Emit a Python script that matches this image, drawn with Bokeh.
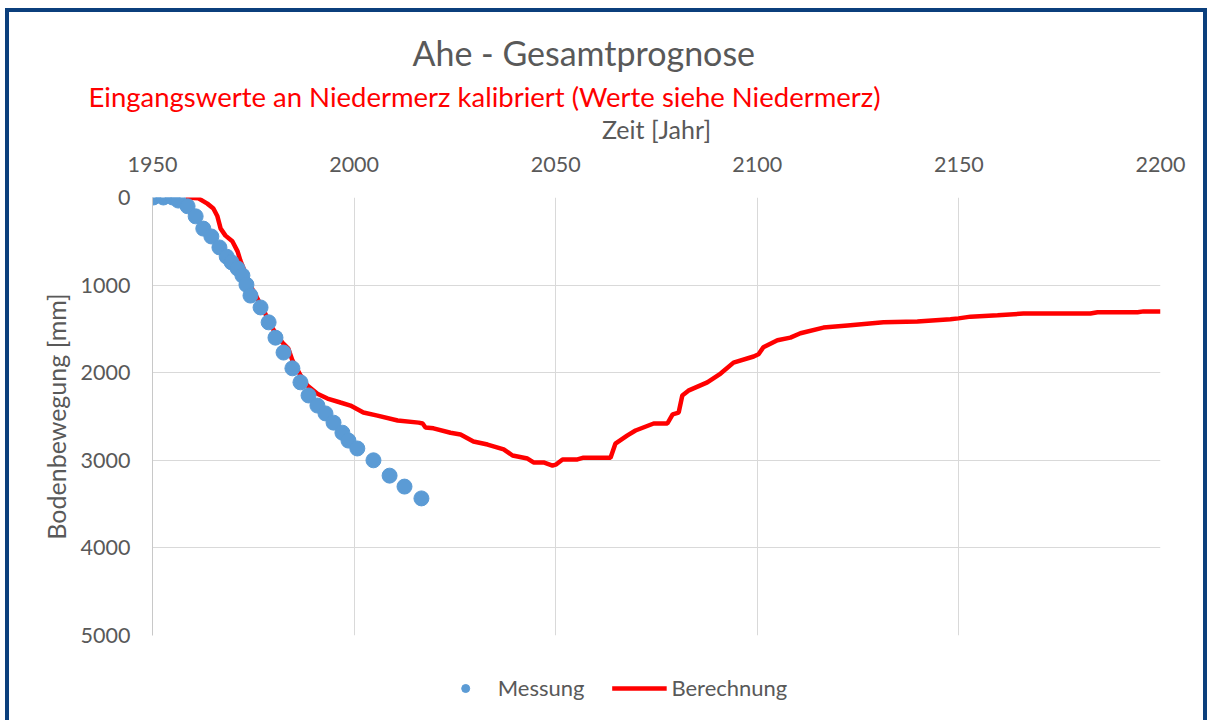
from bokeh.plotting import figure
from bokeh.models import Range1d, FixedTicker, Title, Legend, LegendItem
from bokeh.embed import file_html
from bokeh.resources import INLINE

# Messung (measured)
mess_year = [1950.2, 1952.7, 1955.0, 1956.4, 1958.7, 1960.7, 1962.6, 1964.6, 1966.6, 1968.4,
             1969.6, 1971.1, 1972.3, 1973.3, 1974.3, 1976.8, 1978.8, 1980.5, 1982.5, 1984.7,
             1986.7, 1988.7, 1990.9, 1992.9, 1994.9, 1997.1, 1998.6, 2000.8, 2004.8, 2008.8,
             2012.5, 2016.7]
mess_mm = [0, 0, 0, 35, 100, 215, 355, 445, 570, 675,
           740, 810, 890, 995, 1120, 1255, 1425, 1600, 1770, 1950,
           2110, 2260, 2375, 2465, 2570, 2685, 2775, 2865, 3000, 3175,
           3300, 3435]

# Berechnung (calculated)
ber_year = [1958.2, 1961.4, 1963.6, 1965.1, 1966.1, 1966.9, 1968.1, 1969.8, 1971.1, 1971.8,
            1974.3, 1977.3, 1979.8, 1982.2, 1983.7, 1984.7, 1986.7, 1988.4, 1990.9, 1993.4,
            1996.6, 1999.1, 2002.3, 2005.8, 2010.8, 2016.0, 2017.0, 2017.7, 2019.7, 2023.9,
            2026.4, 2029.6, 2033.1, 2037.1, 2039.3, 2043.0, 2044.5, 2047.0, 2049.2, 2050.0,
            2051.7, 2055.4, 2056.9, 2063.6, 2064.8, 2067.8, 2069.8, 2074.3, 2077.7, 2079.0,
            2080.5, 2081.4, 2082.9, 2087.6, 2090.9, 2094.1, 2099.1, 2100.3, 2101.5, 2105.0,
            2108.2, 2110.7, 2116.4, 2122.4, 2131.3, 2139.7, 2147.9, 2149.9, 2152.9, 2159.6,
            2166.0, 2182.6, 2184.4, 2194.3, 2195.8, 2200.0]
ber_mm = [0, 10, 70, 125, 215, 355, 435, 500, 615, 720,
          1005, 1265, 1495, 1655, 1725, 1860, 2030, 2145, 2240, 2295,
          2340, 2375, 2455, 2490, 2545, 2570, 2580, 2625, 2635, 2685,
          2705, 2785, 2820, 2875, 2945, 2980, 3025, 3025, 3060, 3050,
          2990, 2990, 2970, 2970, 2810, 2715, 2660, 2580, 2580, 2475,
          2455, 2260, 2205, 2110, 2010, 1885, 1815, 1790, 1710, 1630,
          1600, 1550, 1485, 1460, 1425, 1415, 1390, 1380, 1360, 1345,
          1325, 1325, 1310, 1310, 1300, 1300]

x_ticks = [1950, 2000, 2050, 2100, 2150, 2200]
y_ticks = [0, 1000, 2000, 3000, 4000, 5000]

FONT = "Lato"
GRAY = "#595959"

p = figure(frame_width=1008, frame_height=438, output_backend="svg", toolbar_location=None,
           x_axis_location="above",
           x_range=Range1d(1950, 2200), y_range=Range1d(5000, 0),
           min_border_left=143, min_border_right=43, min_border_top=185, min_border_bottom=85,
           background_fill_color="white", border_fill_color="white")
p.outline_line_color = None
p.styles = {"border-top": "4px solid #0b3f7c", "border-left": "4px solid #0b3f7c",
            "border-right": "4px solid #0b3f7c", "margin-left": "5px", "margin-top": "8px"}

p.xaxis.ticker = FixedTicker(ticks=x_ticks)
p.yaxis.ticker = FixedTicker(ticks=y_ticks)
for ax in (p.xaxis[0], p.yaxis[0]):
    ax.major_tick_line_color = None
    ax.minor_tick_line_color = None
    ax.major_label_text_font = FONT
    ax.major_label_text_font_size = "21.5px"
    ax.major_label_text_color = GRAY
    ax.axis_label_text_font = FONT
    ax.axis_label_text_font_style = "normal"
    ax.axis_label_text_font_size = "25px"
    ax.axis_label_text_color = GRAY
p.xaxis.axis_line_color = None
p.yaxis.axis_line_color = "#c8c8c8"
p.xaxis.axis_label = "Zeit [Jahr]"
p.yaxis.axis_label = "Bodenbewegung [mm]"
p.xaxis.major_label_standoff = 20
p.xaxis.axis_label_standoff = 10
p.yaxis.major_label_standoff = 16
p.yaxis.axis_label_standoff = 7

p.xgrid.ticker = FixedTicker(ticks=x_ticks)
p.ygrid.ticker = FixedTicker(ticks=y_ticks)
p.grid.grid_line_color = "#d9d9d9"
p.grid.grid_line_width = 1

r_line = p.line(ber_year, ber_mm, line_color="#ff0000", line_width=4.5)
r_dots = p.scatter(mess_year, mess_mm, size=15, fill_color="#5b9bd5", line_color="#5b9bd5")
r_pad = p.line([], [], line_alpha=0)

sub = Title(text="Eingangswerte an Niedermerz kalibriert (Werte siehe Niedermerz)",
            text_color="#ff0000", text_font=FONT, text_font_size="27.5px",
            text_font_style="normal", align="left", offset=-64, standoff=-5)
p.add_layout(sub, "above")
main = Title(text="Ahe - Gesamtprognose", text_color=GRAY, text_font=FONT,
             text_font_size="34px", text_font_style="normal", align="left", offset=260, standoff=15)
p.add_layout(main, "above")

legend = Legend(items=[LegendItem(label="Messung", renderers=[r_dots]),
                       LegendItem(label="Berechnung", renderers=[r_line]),
                       LegendItem(label=" ", renderers=[r_pad])],
                orientation="horizontal", location="top_center",
                label_text_font=FONT, label_text_font_size="22px", label_text_color=GRAY,
                glyph_width=55, glyph_height=20, label_standoff=5, spacing=27, label_width=0,
                padding=0, margin=39, border_line_color=None, background_fill_alpha=0)
p.add_layout(legend, "below")

open("out.html", "w").write(file_html(p, INLINE))
